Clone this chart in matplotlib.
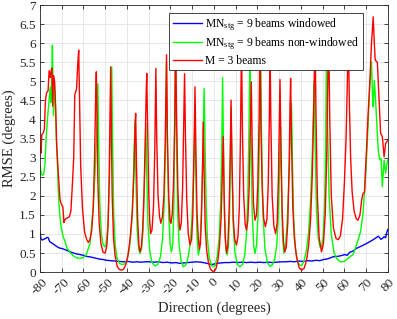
import numpy as np
import matplotlib
matplotlib.use("Agg")
import matplotlib.pyplot as plt
from matplotlib.ticker import FormatStrFormatter

plt.rcParams['font.family'] = ['Liberation Serif', 'DejaVu Serif']
plt.rcParams['mathtext.fontset'] = 'custom'
plt.rcParams['mathtext.rm'] = 'Liberation Serif'
plt.rcParams['mathtext.it'] = 'Liberation Serif'
plt.rcParams['axes.unicode_minus'] = False

# (direction in degrees, RMSE in degrees)
blue_pts = [
    (-80, 1.06), (-79.6, 0.88), (-79.0, 0.84), (-78.3, 0.86), (-77.5, 0.88), (-76.8, 0.91),
    (-76.2, 0.9), (-75.6, 0.8), (-75.0, 0.78), (-74.0, 0.74), (-73.0, 0.7), (-72.0, 0.66),
    (-71.0, 0.63), (-70.0, 0.62), (-69.0, 0.6), (-67.7, 0.57), (-66.5, 0.54), (-65.0, 0.51),
    (-63.5, 0.48), (-61.6, 0.46), (-60.0, 0.44), (-58.5, 0.41), (-57.0, 0.4), (-55.5, 0.38),
    (-54.0, 0.36), (-52.5, 0.34), (-51.0, 0.33), (-49.4, 0.31), (-47.5, 0.3), (-45.5, 0.29),
    (-43.5, 0.28), (-41.5, 0.27), (-39.5, 0.28), (-37.5, 0.26), (-35.5, 0.27), (-33.5, 0.26),
    (-31.5, 0.27), (-29.5, 0.27), (-27.5, 0.26), (-25.5, 0.27), (-23.5, 0.25), (-21.5, 0.26),
    (-19.5, 0.24), (-17.5, 0.25), (-15.7, 0.23), (-14, 0.24), (-12, 0.25), (-10, 0.26),
    (-8, 0.27), (-6, 0.26), (-4, 0.24), (-2.5, 0.22), (-1.2, 0.2), (0.0, 0.21), (1.5, 0.23),
    (3, 0.24), (5, 0.25), (7, 0.25), (9, 0.26), (11, 0.25), (13, 0.26), (15, 0.25), (17, 0.26),
    (19, 0.25), (21, 0.26), (23, 0.25), (25, 0.26), (27, 0.25), (29, 0.26), (31, 0.27),
    (33, 0.27), (35, 0.28), (37, 0.27), (39, 0.29), (41, 0.28), (43, 0.3), (45, 0.29),
    (47, 0.31), (48.7, 0.3), (50.5, 0.33), (52.5, 0.35), (54.8, 0.4), (56.5, 0.41),
    (58.5, 0.43), (60.2, 0.46), (61.3, 0.44), (62.5, 0.52), (64.0, 0.55), (65.5, 0.62),
    (67, 0.66), (68.5, 0.7), (70.2, 0.75), (71.8, 0.8), (73.3, 0.85), (74.6, 0.9),
    (75.6, 0.94), (76.3, 0.9), (76.8, 0.86), (77.5, 0.88), (78.3, 0.93), (79.0, 0.9),
    (79.6, 1.05), (80.0, 1.12),
]

green_pts = [
    (-80, 2.81), (-79.5, 2.6), (-79, 2.54), (-78.3, 2.56), (-77.7, 2.85), (-77.2, 3.5),
    (-76.5, 4.07), (-75.6, 4.68), (-75.3, 4.85), (-75.0, 4.45), (-74.6, 5.2), (-74.3, 5.95),
    (-74.0, 4.8), (-73.8, 4.1), (-73.4, 5.0), (-73.0, 4.6), (-72.6, 3.65), (-72.0, 2.8),
    (-71.5, 2.0), (-70.9, 1.5), (-70.3, 1.19), (-69.5, 0.95), (-68.6, 0.82), (-67.6, 0.63),
    (-66.0, 0.5), (-64.5, 0.42), (-63, 0.37), (-61.6, 0.36), (-60.0, 0.38), (-58.8, 0.45),
    (-57.9, 0.6), (-57.0, 0.75), (-56.3, 1.2), (-55.5, 1.73), (-54.5, 2.8), (-53.8, 3.9),
    (-53.4, 4.94), (-53.0, 3.3), (-52.5, 1.8), (-51.8, 1.0), (-51.0, 0.72), (-50.2, 0.66),
    (-49.5, 0.75), (-48.7, 1.3), (-48.0, 2.6), (-47.4, 4.3), (-47.0, 5.38), (-46.6, 3.4),
    (-46.1, 1.5), (-45.4, 0.7), (-44.5, 0.35), (-43.3, 0.22), (-42.0, 0.2), (-40.8, 0.22),
    (-39.8, 0.35), (-38.8, 0.65), (-37.8, 1.3), (-37.1, 2.3), (-36.6, 3.3), (-36.3, 3.99),
    (-35.9, 2.5), (-35.3, 1.1), (-34.6, 0.6), (-34.0, 0.49), (-33.3, 0.6), (-32.6, 1.1),
    (-32.0, 2.2), (-31.6, 3.2), (-31.3, 3.9), (-30.9, 2.6), (-30.3, 1.2), (-29.5, 0.55),
    (-28.5, 0.25), (-27.1, 0.16), (-25.8, 0.2), (-24.6, 0.4), (-23.6, 0.9), (-22.8, 1.9),
    (-22.2, 3.5), (-21.8, 5.5), (-21.4, 3.3), (-20.8, 1.5), (-20.1, 0.7), (-19.5, 0.53),
    (-18.9, 0.75), (-18.4, 1.8), (-18.0, 4.0), (-17.7, 6.0), (-17.3, 3.8), (-16.7, 1.6),
    (-16.0, 0.7), (-15.1, 0.3), (-14.1, 0.14), (-13.0, 0.18), (-12.0, 0.35), (-11.0, 0.7),
    (-10.2, 1.3), (-9.5, 2.3), (-9.0, 3.3), (-8.7, 4.16), (-8.3, 2.6), (-7.8, 1.0),
    (-7.2, 0.45), (-6.6, 0.6), (-6.0, 1.2), (-5.4, 2.3), (-4.9, 3.6), (-4.5, 4.82),
    (-4.1, 3.4), (-3.6, 1.8), (-3.0, 0.9), (-2.2, 0.4), (-1.2, 0.18), (-0.3, 0.14),
    (0.6, 0.18), (1.5, 0.4), (2.4, 0.9), (3.1, 1.8), (3.6, 3.2), (4.0, 5.1), (4.4, 3.3),
    (4.9, 1.4), (5.5, 0.6), (6.1, 0.45), (6.7, 0.7), (7.2, 1.6), (7.6, 3.2), (7.9, 4.33),
    (8.3, 2.8), (8.9, 1.2), (9.7, 0.5), (10.8, 0.2), (12.0, 0.14), (13.2, 0.2), (14.2, 0.45),
    (15.0, 1.0), (15.6, 2.0), (16.2, 4.0), (16.6, 6.0), (17.0, 3.8), (17.6, 1.6), (18.3, 0.7),
    (18.9, 0.49), (19.6, 0.7), (20.3, 1.5), (21.0, 3.5), (21.5, 6.0), (21.9, 3.6), (22.6, 1.5),
    (23.5, 0.6), (24.6, 0.25), (25.8, 0.15), (27.0, 0.2), (28.0, 0.35), (28.9, 0.7),
    (29.6, 1.4), (30.2, 2.6), (30.7, 3.81), (31.1, 2.2), (31.6, 0.9), (32.2, 0.49),
    (32.9, 0.65), (33.7, 1.3), (34.5, 2.4), (35.2, 3.6), (35.7, 4.42), (36.1, 3.0),
    (36.7, 1.4), (37.5, 0.6), (38.5, 0.28), (39.5, 0.18), (40.5, 0.18), (41.5, 0.3),
    (42.5, 0.55), (43.5, 1.0), (44.5, 1.9), (45.3, 3.2), (45.9, 4.5), (46.2, 5.0), (46.6, 3.3),
    (47.2, 1.6), (48.0, 0.9), (48.8, 0.66), (49.5, 0.66), (50.2, 0.9), (50.9, 1.7), (51.4, 3.2),
    (51.8, 6.0), (52.3, 3.8), (53.0, 2.0), (54.0, 1.0), (55.3, 0.5), (56.8, 0.33), (58.2, 0.27),
    (60.0, 0.28), (61.5, 0.35), (63.0, 0.42), (64.0, 0.46), (65.3, 0.66), (66.3, 0.84),
    (67.5, 1.07), (68.6, 1.54), (69.4, 2.2), (70.2, 2.94), (71.0, 4.0), (71.7, 4.86),
    (72.5, 5.51), (73.0, 4.6), (73.3, 4.33), (73.8, 5.03), (74.3, 4.6), (74.8, 4.07),
    (75.6, 3.2), (76.3, 2.94), (76.9, 2.98), (77.5, 2.24), (78.3, 2.94), (79.0, 2.59),
    (79.5, 2.8), (80.0, 2.94),
]

red_pts = [
    (-80, 3.28), (-79.5, 3.12), (-79.2, 3.6), (-78.5, 3.65), (-78, 3.75), (-77.5, 4.5),
    (-77, 4.7), (-76.3, 4.75), (-75.8, 5.28), (-75.3, 5.1), (-74.8, 5.3), (-74.5, 5.35),
    (-74.2, 4.35), (-73.8, 5.15), (-73.3, 5.0), (-72.8, 4.3), (-72.3, 3.3), (-71.5, 2.5),
    (-70.8, 1.9), (-70, 1.75), (-69.5, 1.72), (-69, 1.3), (-68.5, 1.38), (-67.5, 1.42),
    (-66.5, 1.45), (-65.8, 1.6), (-65.2, 2.2), (-64.5, 3.0), (-64, 4.65), (-63.2, 4.8),
    (-62.6, 5.5), (-62.2, 5.82), (-61.8, 4.5), (-61.3, 2.8), (-60.5, 1.7), (-59.5, 1.05),
    (-58.5, 0.85), (-57.8, 0.78), (-57, 0.85), (-56.2, 1.1), (-55.5, 1.7), (-54.9, 3.0),
    (-54.4, 4.6), (-54.1, 5.25), (-53.8, 4.2), (-53.4, 2.4), (-52.8, 1.3), (-52, 0.75),
    (-51, 0.52), (-50, 0.5), (-49.3, 0.68), (-48.7, 1.2), (-48.2, 2.4), (-47.8, 4.2),
    (-47.5, 5.38), (-47.2, 4.0), (-46.8, 2.0), (-46.2, 0.9), (-45.5, 0.45), (-44.5, 0.15),
    (-43.5, 0.07), (-42.5, 0.05), (-41.5, 0.08), (-40.5, 0.2), (-39.5, 0.45), (-38.5, 0.9),
    (-37.5, 1.6), (-36.8, 2.6), (-36.3, 3.8), (-36.0, 4.16), (-35.6, 2.8), (-35.1, 1.4),
    (-34.5, 0.7), (-34.0, 0.53), (-33.4, 0.65), (-32.8, 1.1), (-32.2, 2.0), (-31.6, 3.4),
    (-31.2, 4.6), (-30.9, 5.21), (-30.5, 3.8), (-30.0, 2.1), (-29.5, 1.3), (-29.1, 1.01),
    (-28.5, 1.1), (-27.8, 1.7), (-27.2, 3.2), (-26.7, 5.34), (-26.3, 3.5), (-25.7, 2.0),
    (-25.0, 1.45), (-24.4, 1.28), (-23.7, 1.45), (-23.0, 2.0), (-22.4, 3.4), (-21.8, 5.7),
    (-21.4, 3.6), (-20.8, 2.0), (-20.2, 1.35), (-19.8, 1.28), (-19.2, 1.5), (-18.6, 2.3),
    (-18.0, 4.0), (-17.6, 6.1), (-17.2, 4.2), (-16.6, 2.2), (-16.0, 1.3), (-15.6, 1.1),
    (-15.0, 1.3), (-14.4, 2.2), (-13.9, 3.8), (-13.5, 5.2), (-13.1, 3.6), (-12.5, 1.9),
    (-11.8, 1.0), (-11.0, 0.71), (-10.3, 0.85), (-9.7, 1.5), (-9.2, 3.0), (-8.7, 4.86),
    (-8.3, 3.2), (-7.8, 1.6), (-7.2, 0.9), (-6.7, 0.6), (-6.2, 0.75), (-5.7, 1.5), (-5.2, 2.8),
    (-4.9, 3.94), (-4.5, 2.6), (-4.0, 1.2), (-3.3, 0.55), (-2.5, 0.25), (-1.5, 0.07),
    (-0.5, 0.02), (0.3, 0.03), (1.0, 0.1), (1.8, 0.3), (2.6, 0.7), (3.3, 1.4), (3.8, 2.4),
    (4.3, 3.55), (4.7, 2.0), (5.2, 0.9), (5.8, 0.5), (6.4, 0.7), (7.0, 1.6), (7.5, 3.0),
    (7.9, 4.51), (8.3, 3.0), (8.9, 1.4), (9.6, 0.85), (10.4, 0.71), (11.1, 0.95), (11.7, 1.7),
    (12.2, 3.5), (12.7, 6.0), (13.1, 3.8), (13.7, 2.0), (14.4, 1.25), (15.0, 1.1), (15.6, 1.35),
    (16.2, 2.2), (16.8, 3.8), (17.2, 4.99), (17.6, 3.4), (18.2, 1.8), (18.9, 1.36), (19.6, 1.5),
    (20.2, 2.3), (20.8, 4.0), (21.2, 6.2), (21.6, 4.0), (22.2, 2.2), (22.9, 1.4), (23.7, 1.19),
    (24.4, 1.4), (25.0, 2.3), (25.5, 4.0), (25.8, 6.1), (26.2, 4.0), (26.8, 2.0), (27.6, 1.2),
    (28.4, 1.01), (29.1, 1.3), (29.7, 2.5), (30.1, 4.0), (30.4, 5.05), (30.8, 3.5), (31.4, 1.6),
    (32.0, 0.8), (32.6, 0.53), (33.3, 0.65), (34.0, 1.3), (34.6, 2.8), (35.0, 4.3), (35.3, 5.08),
    (35.7, 3.5), (36.3, 1.7), (37.0, 0.9), (38.0, 0.4), (39.2, 0.12), (40.3, 0.05), (41.5, 0.1),
    (42.6, 0.3), (43.6, 0.7), (44.5, 1.4), (45.3, 2.6), (46.0, 4.5), (46.5, 6.3), (47.0, 4.0),
    (47.6, 2.0), (48.4, 0.9), (49.5, 0.53), (50.4, 0.75), (51.2, 1.5), (51.9, 3.0), (52.4, 5.0),
    (52.8, 6.3), (53.3, 4.0), (54.0, 2.0), (55.0, 1.15), (56.2, 0.88), (57.2, 0.85), (58.2, 0.95),
    (59.2, 1.4), (60.0, 2.3), (60.8, 3.5), (61.4, 5.0), (61.8, 6.3), (62.3, 4.5), (62.9, 3.0),
    (63.6, 2.1), (64.5, 1.6), (65.5, 1.4), (66.3, 1.36), (67.2, 1.5), (68.0, 1.9), (68.6, 2.06),
    (69.3, 2.1), (70.2, 3.2), (71.0, 4.2), (71.7, 4.95), (72.5, 5.99), (73.3, 6.69), (73.8, 6.0),
    (74.2, 5.56), (75.2, 5.5), (76.0, 4.51), (76.7, 3.64), (77.5, 3.55), (78.3, 3.02),
    (79.0, 3.37), (80.0, 3.46),
]

labels = [r'MN$_{\rm stg}$ = 9 beams windowed',
          r'MN$_{\rm stg}$ = 9 beams non-windowed',
          'M = 3 beams']
xticks = np.arange(-80, 81, 10)
yticks = np.arange(0, 7.01, 0.5)

fig = plt.figure(figsize=(3.97, 3.19), dpi=100)
ax = fig.add_axes([0.1008, 0.147, 0.876, 0.837])

for pts, col, lab in [(blue_pts, '#0000ff', labels[0]),
                      (green_pts, '#00ff00', labels[1]),
                      (red_pts, '#ff0000', labels[2])]:
    p = np.array(pts)
    ax.plot(p[:, 0], p[:, 1], color=col, lw=1.0, label=lab)

ax.set_xlim(-80, 80)
ax.set_ylim(0, 7)
ax.set_xticks(xticks)
ax.set_yticks(yticks)
ax.yaxis.set_major_formatter(FormatStrFormatter('%g'))
ax.set_xticklabels([str(v) for v in xticks], rotation=45, ha='center')
ax.tick_params(direction='in', length=3, width=0.6, labelsize=9.5, colors='#262626',
               top=True, right=True, pad=3)
ax.grid(True, color='#e3e3e3', lw=0.6)
ax.set_axisbelow(True)
for s in ax.spines.values():
    s.set_color('#262626')
    s.set_linewidth(0.6)

ax.set_xlabel('Direction (degrees)', fontsize=10.5, color='#262626', labelpad=3)
ax.set_ylabel('RMSE (degrees)', fontsize=10.5, color='#262626', labelpad=2)

leg = ax.legend(loc='upper right', bbox_to_anchor=(0.928, 0.97), borderaxespad=0,
                fancybox=False, framealpha=1, edgecolor='#262626', fontsize=8.4,
                handlelength=2.5, handletextpad=0.3, borderpad=0.3, labelspacing=0.2)
leg.get_frame().set_linewidth(0.6)

fig.savefig('out.png', dpi=100)
